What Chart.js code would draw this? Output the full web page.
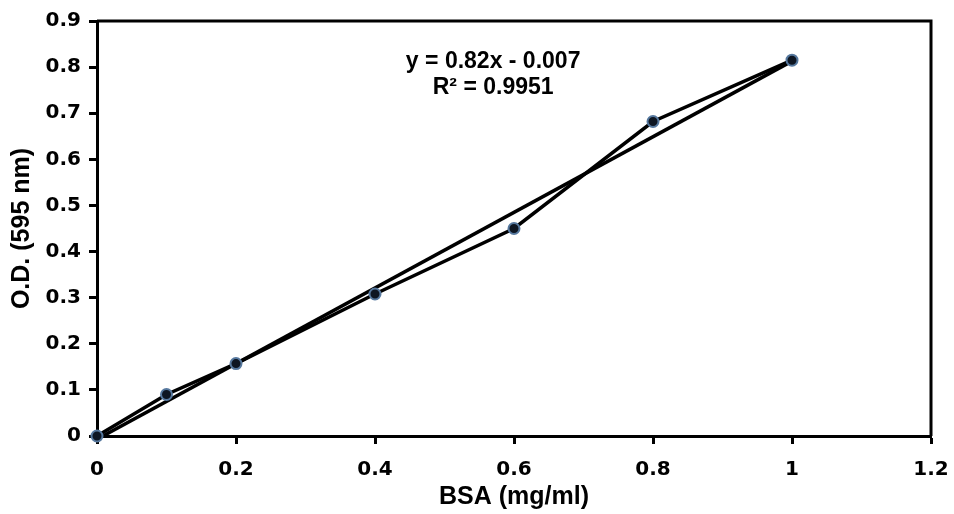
<!DOCTYPE html>
<html>
<head>
<meta charset="utf-8">
<title>BSA standard curve</title>
<script src="https://cdn.jsdelivr.net/npm/chart.js@4"></script>
<style>
  html, body { margin: 0; padding: 0; background: #fff; }
  #wrap { width: 954px; height: 514px; position: relative; }
</style>
</head>
<body>
<div id="wrap"><canvas id="bsaChart"></canvas></div>
<script>
"use strict";

// Концентрація BSA (mg/ml) та оптична густина при 595 nm
const bsaConc = [0, 0.1, 0.2, 0.4, 0.6, 0.8, 1];
const odValues = [0, 0.09, 0.157, 0.308, 0.45, 0.682, 0.815];

// Лінія тренду: y = 0.82x - 0.007, кінцеві точки
const trendX = [0, 1];
const trendY = [-0.007, 0.813];

const xTicks = [0, 0.2, 0.4, 0.6, 0.8, 1, 1.2];
const yTicks = [0, 0.1, 0.2, 0.3, 0.4, 0.5, 0.6, 0.7, 0.8, 0.9];

const eqLines = ['y = 0.82x - 0.007', 'R\u00B2 = 0.9951'];

const tickFont = { family: '"DejaVu Sans", Verdana, sans-serif', size: 20, weight: 'bold' };
const titleFont = { family: '"Liberation Sans", Arial, sans-serif', size: 25, weight: 'bold' };

// Рамка навколо області графіка + текст рівняння
const framePlugin = {
    id: 'frame',
    afterDatasetsDraw(chart) {
        const { ctx, chartArea: a, scales } = chart;
        ctx.save();
        ctx.strokeStyle = '#000';
        ctx.lineWidth = 3;
        ctx.beginPath();
        ctx.moveTo(a.left, a.top);
        ctx.lineTo(a.right, a.top);
        ctx.lineTo(a.right, a.bottom);
        ctx.stroke();

        ctx.fillStyle = '#000';
        ctx.font = 'bold 23px "Liberation Sans", Arial, sans-serif';
        ctx.textAlign = 'center';
        ctx.textBaseline = 'middle';
        const cx = scales.x.getPixelForValue(0.57);
        ctx.fillText(eqLines[0], cx, scales.y.getPixelForValue(0.811));
        ctx.fillText(eqLines[1], cx, scales.y.getPixelForValue(0.755));
        ctx.restore();
    }
};

const ctx = document.getElementById('bsaChart');

new Chart(ctx, {
    type: 'scatter',
    data: {
        datasets: [
            {
                label: 'O.D.',
                data: bsaConc.map((x, i) => ({ x: x, y: odValues[i] })),
                showLine: true,
                borderColor: '#000',
                borderWidth: 3.5,
                pointRadius: 5.5,
                pointBackgroundColor: '#0e1622',
                pointBorderColor: '#56789e',
                pointBorderWidth: 2,
                clip: false
            },
            {
                label: 'Trend',
                data: trendX.map((x, i) => ({ x: x, y: trendY[i] })),
                showLine: true,
                borderColor: '#000',
                borderWidth: 3.5,
                pointRadius: 0
            }
        ]
    },
    options: {
        responsive: true,
        maintainAspectRatio: false,
        animation: false,
        layout: { padding: { top: 21, right: 23, bottom: 0, left: 0 } },
        plugins: {
            legend: { display: false },
            tooltip: { enabled: false }
        },
        scales: {
            x: {
                type: 'linear',
                min: 0,
                max: 1.2,
                afterBuildTicks: s => { s.ticks = xTicks.map(v => ({ value: v })); },
                afterFit: s => {
                    s.height = 78;
                    s.paddingLeft = 0;
                    s.paddingRight = 0;
                },
                grid: {
                    drawOnChartArea: false,
                    drawTicks: true,
                    tickLength: 8,
                    tickWidth: 3,
                    tickColor: '#000'
                },
                border: { color: '#000', width: 3 },
                ticks: {
                    color: '#000',
                    font: tickFont,
                    padding: 14,
                    maxRotation: 0,
                    callback: v => String(v)
                },
                title: {
                    display: true,
                    text: 'BSA (mg/ml)',
                    color: '#000',
                    font: titleFont,
                    padding: { top: 0, bottom: 2 }
                }
            },
            y: {
                type: 'linear',
                min: 0,
                max: 0.9,
                afterBuildTicks: s => { s.ticks = yTicks.map(v => ({ value: v })); },
                afterFit: s => {
                    s.width = 97;
                    s.paddingTop = 0;
                    s.paddingBottom = 0;
                },
                grid: {
                    drawOnChartArea: false,
                    drawTicks: true,
                    tickLength: 8,
                    tickWidth: 3,
                    tickColor: '#000'
                },
                border: { color: '#000', width: 3 },
                ticks: {
                    color: '#000',
                    font: tickFont,
                    padding: 8,
                    callback: v => String(v)
                },
                title: {
                    display: true,
                    text: 'O.D. (595 nm)',
                    color: '#000',
                    font: titleFont,
                    padding: { top: 7, bottom: 0 }
                }
            }
        }
    },
    plugins: [framePlugin]
});
</script>
</body>
</html>
